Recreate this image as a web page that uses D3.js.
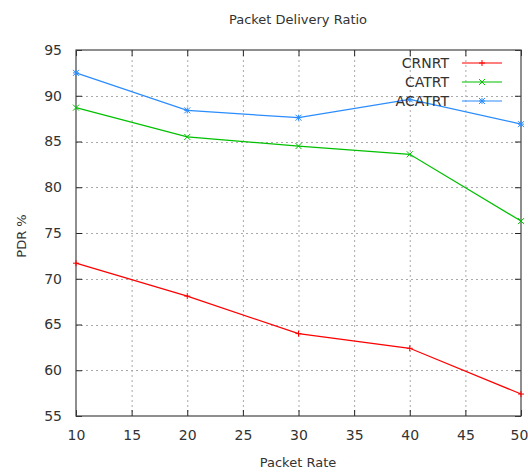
<!DOCTYPE html>
<html>
<head>
<meta charset="utf-8">
<script src="https://d3js.org/d3.v7.min.js"></script>
<style>
  html, body { margin: 0; padding: 0; background: #fff; }
  svg { display: block; }
  text { font-family: "DejaVu Sans", sans-serif; fill: #333; }
</style>
</head>
<body>
<script>
// Packet rate on the x axis, PDR (%) per routing protocol
const packetRates = [10, 20, 30, 40, 50];
const crnrt  = [71.7, 68.1, 64.0, 62.4, 57.4];
const catrt  = [88.7, 85.5, 84.5, 83.6, 76.3];
const acatrt = [92.5, 88.4, 87.6, 89.6, 86.9];
const xTicks = [10, 15, 20, 25, 30, 35, 40, 45, 50];
const yTicks = [55, 60, 65, 70, 75, 80, 85, 90, 95];

const series = [
  { name: "CRNRT",  values: crnrt,  color: "#ff0000", marker: "plus" },
  { name: "CATRT",  values: catrt,  color: "#00c000", marker: "cross" },
  { name: "ACATRT", values: acatrt, color: "#2a8cff", marker: "star" }
];

const W = 528, H = 473;
const m = { left: 76, right: 7, top: 50, bottom: 57 };

const svg = d3.select("body").append("svg").attr("width", W).attr("height", H);

const x = d3.scaleLinear().domain([10, 50]).range([m.left, W - m.right]);
const y = d3.scaleLinear().domain([55, 95]).range([H - m.bottom, m.top]);

// dotted grid
const grid = svg.append("g").attr("stroke", "#aaa").attr("stroke-dasharray", "2,3").attr("stroke-width", 1);
xTicks.slice(1, -1).forEach(t => {
  grid.append("line").attr("x1", x(t) + 0.5).attr("x2", x(t) + 0.5)
    .attr("y1", y(95)).attr("y2", y(55));
});
yTicks.slice(1, -1).forEach(t => {
  grid.append("line").attr("x1", x(10)).attr("x2", x(50))
    .attr("y1", Math.round(y(t)) + 0.5).attr("y2", Math.round(y(t)) + 0.5);
});

// axes with inward ticks, mirrored on the top and right edges
const fmt = d3.format("d");
const axB = svg.append("g").attr("transform", `translate(0,${y(55)})`)
  .call(d3.axisBottom(x).tickValues(xTicks).tickFormat(fmt).tickSizeInner(-6).tickSizeOuter(0).tickPadding(14));
const axT = svg.append("g").attr("transform", `translate(0,${y(95)})`)
  .call(d3.axisTop(x).tickValues(xTicks).tickFormat("").tickSizeInner(-6).tickSizeOuter(0));
const axL = svg.append("g").attr("transform", `translate(${x(10)},0)`)
  .call(d3.axisLeft(y).tickValues(yTicks).tickFormat(fmt).tickSizeInner(-6).tickSizeOuter(0).tickPadding(14));
const axR = svg.append("g").attr("transform", `translate(${x(50)},0)`)
  .call(d3.axisRight(y).tickValues(yTicks).tickFormat("").tickSizeInner(-6).tickSizeOuter(0));
[axB, axT, axL, axR].forEach(a => {
  a.select(".domain").remove();
  a.selectAll("line").attr("stroke", "#222");
  a.selectAll("text").attr("font-size", 14).attr("fill", "#333")
    .attr("font-family", "DejaVu Sans, sans-serif");
});
// keep the last x label inside the canvas
axB.selectAll(".tick text").filter(d => d === 50).attr("dx", "-2");

// plot frame
svg.append("rect")
  .attr("x", x(10)).attr("y", y(95))
  .attr("width", x(50) - x(10)).attr("height", y(55) - y(95))
  .attr("fill", "none").attr("stroke", "#444").attr("stroke-width", 1.2);

// marker shapes
function drawMarker(g, cx, cy, type, color) {
  const s = 3;
  const seg = (x1, y1, x2, y2) => g.append("line")
    .attr("x1", cx + x1).attr("y1", cy + y1).attr("x2", cx + x2).attr("y2", cy + y2)
    .attr("stroke", color).attr("stroke-width", 1);
  if (type === "plus" || type === "star") { seg(-s, 0, s, 0); seg(0, -s, 0, s); }
  if (type === "cross" || type === "star") { seg(-s, -s, s, s); seg(-s, s, s, -s); }
}

const line = d3.line().x(d => x(d[0])).y(d => y(d[1]));
series.forEach(s => {
  const pts = packetRates.map((r, i) => [r, s.values[i]]);
  svg.append("path").datum(pts).attr("d", line)
    .attr("fill", "none").attr("stroke", s.color).attr("stroke-width", 1.2);
  const g = svg.append("g");
  pts.forEach(p => drawMarker(g, x(p[0]), y(p[1]), s.marker, s.color));
});

// legend
const legend = svg.append("g");
series.forEach((s, i) => {
  const ly = 63 + i * 19;
  legend.append("text").attr("x", 449).attr("y", ly).attr("dy", "0.35em")
    .attr("text-anchor", "end").attr("font-size", 14).text(s.name);
  legend.append("line").attr("x1", 462).attr("x2", 502).attr("y1", ly).attr("y2", ly)
    .attr("stroke", s.color).attr("stroke-width", 1.2);
  drawMarker(legend, 482, ly, s.marker, s.color);
});

// titles
svg.append("text").attr("x", 298).attr("y", 24).attr("text-anchor", "middle")
  .attr("font-size", 13).text("Packet Delivery Ratio");
svg.append("text").attr("x", 298).attr("y", 467).attr("text-anchor", "middle")
  .attr("font-size", 13).text("Packet Rate");
svg.append("text").attr("transform", "translate(26,236) rotate(-90)").attr("text-anchor", "middle")
  .attr("font-size", 13).text("PDR %");
</script>
</body>
</html>
